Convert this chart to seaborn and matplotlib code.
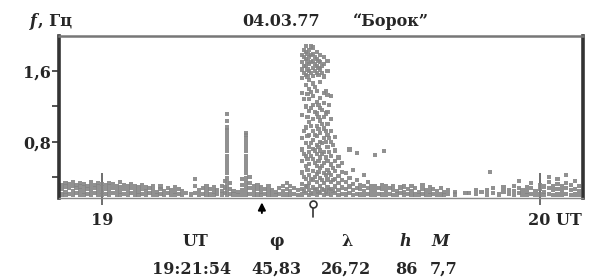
import matplotlib
matplotlib.use("Agg")
import matplotlib.pyplot as plt
import matplotlib.transforms as mtransforms
import seaborn as sns
import pandas as pd

# minutes after 19:00 UT, frequency in Hz
band_left = [
    (-5.5, [0.20, 0.26, 0.31]), (-5.0, [0.19, 0.23, 0.29, 0.33]),
    (-4.5, [0.21, 0.27, 0.32]), (-4.0, [0.19, 0.24, 0.30, 0.34]),
    (-3.5, [0.22, 0.27, 0.31]), (-3.0, [0.20, 0.25, 0.29, 0.33]),
    (-2.5, [0.19, 0.23, 0.28, 0.32]), (-2.0, [0.21, 0.26, 0.30]),
    (-1.5, [0.19, 0.24, 0.29, 0.34]), (-1.0, [0.22, 0.27, 0.31]),
    (-0.5, [0.20, 0.25, 0.30, 0.33]), (0.0, [0.19, 0.23, 0.28, 0.32]),
    (0.5, [0.21, 0.26, 0.31]), (1.0, [0.19, 0.24, 0.29, 0.33]),
    (1.5, [0.22, 0.27, 0.32]), (2.0, [0.20, 0.25, 0.30]),
    (2.5, [0.19, 0.23, 0.28, 0.34]), (3.0, [0.21, 0.26, 0.31]),
    (3.5, [0.19, 0.24, 0.29]), (4.0, [0.22, 0.27, 0.32]),
    (4.5, [0.20, 0.25, 0.30]), (5.0, [0.19, 0.23, 0.28]),
    (5.5, [0.21, 0.26, 0.31]), (6.0, [0.19, 0.24, 0.28]),
    (6.5, [0.22, 0.27]), (7.0, [0.20, 0.25, 0.30]),
    (7.5, [0.19, 0.23]), (8.0, [0.21, 0.26, 0.29]),
    (8.5, [0.19, 0.24]), (9.0, [0.22, 0.27]),
    (9.5, [0.20, 0.25]), (10.0, [0.19, 0.23, 0.28]),
    (10.5, [0.21, 0.26]), (11.0, [0.19, 0.24]),
    (11.5, [0.22]), (12.2, [0.20]),
    (12.7, [0.22, 0.30, 0.38]), (13.3, [0.20, 0.25]),
    (13.8, [0.21, 0.27]), (14.3, [0.19, 0.24, 0.29]),
    (14.8, [0.20, 0.26]), (15.3, [0.19, 0.23, 0.28]),
    (15.8, [0.21, 0.25]), (16.4, [0.20, 0.24, 0.30]),
    (16.8, [0.22, 0.28, 0.35]),
]

spike_a = [(17.1, [0.19, 0.24, 0.29, 0.34, 0.39, 0.44, 0.49, 0.54, 0.59, 0.64,
                   0.69, 0.74, 0.79, 0.84, 0.89, 0.93, 0.96, 1.03, 1.11])]
spike_b = [(19.7, [0.19, 0.24, 0.29, 0.34, 0.39, 0.44, 0.49, 0.54, 0.59, 0.64,
                   0.69, 0.74, 0.79, 0.84, 0.88, 0.90])]

band_mid = [
    (17.5, [0.21, 0.26, 0.33]), (18.0, [0.20, 0.24]), (18.6, [0.19, 0.23]),
    (19.2, [0.20, 0.25, 0.31, 0.38]), (20.2, [0.21, 0.27, 0.33, 0.40]),
    (20.8, [0.19, 0.24, 0.29]), (21.3, [0.20, 0.26, 0.31]),
    (21.8, [0.19, 0.23, 0.28]), (22.3, [0.21, 0.26]),
    (22.8, [0.19, 0.24, 0.29]), (23.3, [0.20, 0.25]),
    (23.8, [0.19, 0.23]), (24.3, [0.21, 0.27]),
    (24.8, [0.19, 0.24, 0.30]), (25.3, [0.20, 0.26, 0.33]),
    (25.8, [0.19, 0.24, 0.30]), (26.3, [0.21, 0.27]),
    (26.8, [0.19, 0.25]),
]

burst = [
    (27.4, [0.20, 0.26, 0.32, 0.45, 0.58, 0.71, 0.84, 1.10, 1.35, 1.52, 1.62, 1.70, 1.78]),
    (27.65, [0.24, 0.40, 0.66, 0.92, 1.28, 1.58, 1.66, 1.76, 1.84]),
    (27.9, [0.22, 0.29, 0.38, 0.52, 0.64, 0.78, 0.96, 1.20, 1.44, 1.56, 1.66, 1.74, 1.82, 1.89]),
    (28.15, [0.30, 0.48, 0.60, 0.86, 1.08, 1.34, 1.54, 1.62, 1.71, 1.80]),
    (28.4, [0.19, 0.25, 0.33, 0.42, 0.55, 0.68, 0.74, 0.88, 1.02, 1.15, 1.28, 1.40, 1.50,
            1.60, 1.68, 1.76, 1.84]),
    (28.65, [0.22, 0.38, 0.64, 0.78, 0.98, 1.18, 1.36, 1.58, 1.70, 1.78, 1.88]),
    (28.9, [0.21, 0.28, 0.36, 0.47, 0.60, 0.72, 0.82, 0.92, 1.06, 1.22, 1.32, 1.46, 1.55,
            1.64, 1.72, 1.80, 1.87]),
    (29.15, [0.25, 0.40, 0.56, 0.70, 0.88, 1.14, 1.42, 1.60, 1.68, 1.76]),
    (29.4, [0.20, 0.26, 0.34, 0.43, 0.52, 0.66, 0.76, 0.86, 0.98, 1.12, 1.25, 1.38, 1.58,
            1.66, 1.74, 1.82]),
    (29.65, [0.23, 0.46, 0.58, 0.74, 0.94, 1.08, 1.22, 1.56, 1.64, 1.72]),
    (29.9, [0.22, 0.30, 0.39, 0.50, 0.62, 0.70, 0.80, 0.90, 1.04, 1.18, 1.30, 1.48, 1.62,
            1.70, 1.78]),
    (30.15, [0.26, 0.36, 0.52, 0.66, 0.78, 1.00, 1.16, 1.58, 1.66]),
    (30.4, [0.19, 0.25, 0.33, 0.44, 0.56, 0.68, 0.84, 0.95, 1.08, 1.24, 1.35, 1.54, 1.68, 1.76]),
    (30.65, [0.23, 0.42, 0.62, 0.80, 0.92, 1.12, 1.38]),
    (30.9, [0.21, 0.28, 0.37, 0.48, 0.58, 0.74, 0.88, 1.00, 1.14, 1.33, 1.60, 1.72]),
    (31.15, [0.25, 0.44, 0.68, 0.84, 1.22]),
    (31.4, [0.20, 0.26, 0.34, 0.42, 0.54, 0.64, 0.80, 0.92, 1.06, 1.32]),
    (31.65, [0.24, 0.36, 0.50, 0.76]),
    (31.9, [0.22, 0.29, 0.38, 0.47, 0.58, 0.70, 0.85]),
    (32.4, [0.19, 0.25, 0.33, 0.41, 0.52, 0.62]),
    (32.9, [0.21, 0.28, 0.36, 0.46, 0.56]),
    (33.4, [0.20, 0.26, 0.34, 0.44]),
    (33.9, [0.22, 0.29, 0.39, 0.71]),
    (34.4, [0.19, 0.25, 0.32, 0.48]),
    (34.9, [0.21, 0.27, 0.36, 0.67]),
    (35.4, [0.20, 0.26, 0.31]),
    (35.9, [0.19, 0.24, 0.30, 0.42]),
    (36.4, [0.21, 0.27, 0.34]),
    (36.9, [0.20, 0.25, 0.30]),
    (37.4, [0.19, 0.24, 0.29, 0.65]),
    (37.9, [0.21, 0.27]),
]

band_right = [
    (38.4, [0.20, 0.26, 0.31]), (38.6, [0.69]), (38.9, [0.19, 0.24, 0.29]),
    (39.4, [0.21, 0.27]), (39.9, [0.19, 0.25, 0.30]), (40.4, [0.20, 0.24]),
    (40.9, [0.22, 0.28]), (41.4, [0.19, 0.23, 0.29]), (41.9, [0.21, 0.26]),
    (42.4, [0.19, 0.24, 0.30]), (42.9, [0.20, 0.27]), (43.4, [0.19, 0.23]),
    (43.9, [0.21, 0.26, 0.31]), (44.4, [0.20, 0.25]), (44.9, [0.19, 0.23, 0.28]),
    (45.4, [0.21, 0.26]), (45.9, [0.19, 0.24]), (46.4, [0.20, 0.27]),
    (46.9, [0.19, 0.23]), (47.4, [0.21, 0.25]), (48.4, [0.20, 0.23]),
    (49.8, [0.22]), (50.3, [0.22]), (51.2, [0.21, 0.25]), (52.0, [0.23]),
    (52.8, [0.20, 0.25]), (53.2, [0.46]), (53.6, [0.22, 0.27]), (54.4, [0.20]),
    (55.0, [0.23, 0.28]), (55.8, [0.21, 0.25]), (56.5, [0.19, 0.24, 0.30]),
    (57.1, [0.22, 0.27, 0.35]), (57.6, [0.20, 0.25]), (58.2, [0.19, 0.23, 0.28]),
    (58.8, [0.21, 0.27, 0.33]), (59.4, [0.19, 0.24]), (60.0, [0.20, 0.26, 0.31]),
    (60.6, [0.19, 0.23, 0.29]), (61.2, [0.21, 0.27, 0.34, 0.40]),
    (61.8, [0.19, 0.25, 0.30]), (62.4, [0.20, 0.26, 0.32, 0.38]),
    (63.0, [0.19, 0.24, 0.29]), (63.6, [0.21, 0.27, 0.33, 0.42]),
    (64.2, [0.19, 0.25, 0.31]), (64.8, [0.20, 0.26, 0.35]),
    (65.4, [0.19, 0.24, 0.30]),
]

event_time = 21.9     # 19:21:54
arrival_time = 28.9
hour_ticks = [0, 60]
hour_labels = ["19", "20 UT"]
f_major = [0.8, 1.6]
f_major_labels = ["0,8", "1,6"]
f_minor = [0.4, 1.2]

info_names = ["UT", "φ", "λ", "h", "M"]
info_values = ["19:21:54", "45,83", "26,72", "86", "7,7"]


def expand(cols):
    return [(t, f) for t, fs in cols for f in fs]


rows = []
for group in [band_left, spike_a, spike_b, band_mid, burst, band_right]:
    rows += expand(group)
df = pd.DataFrame(rows, columns=["t", "f"])

sns.set_style("white")
plt.rcParams["font.family"] = ["DejaVu Serif"]
plt.rcParams["font.weight"] = "bold"

W, H = 602, 279
fig = plt.figure(figsize=(W / 100, H / 100), dpi=100)
ax = fig.add_axes([59 / W, 1 - 198 / H, (583 - 59) / W, (198 - 36) / H])

sns.scatterplot(data=df, x="t", y="f", marker="s", s=9, color="#858585",
                edgecolor="none", linewidth=0, alpha=0.9, ax=ax)

ax.set_xlim(-5.9, 65.9)
ax.set_ylim(0.16, 2.0)
ax.set_xlabel("")
ax.set_ylabel("")

ax.set_yticks(f_major)
ax.set_yticklabels(f_major_labels, fontsize=11.5, fontweight="bold")
ax.set_yticks(f_minor, minor=True)
ax.tick_params(axis="y", which="both", direction="out", length=5, width=1.2,
               color="#333333", pad=1, left=True)

ax.xaxis.remove_overlapping_locs = False
ax.set_xticks(hour_ticks)
ax.set_xticklabels(hour_labels, fontsize=11.5, fontweight="bold")
ax.set_xticks(hour_ticks, minor=True)
ax.tick_params(axis="x", which="major", direction="in", length=18, width=1.2,
               color="#555555", pad=10, bottom=True)
ax.tick_params(axis="x", which="minor", direction="out", length=5, width=1.2,
               color="#555555", bottom=True)
lab20 = ax.get_xticklabels()[1]
lab20.set_horizontalalignment("left")
lab20.set_transform(lab20.get_transform() +
                    mtransforms.ScaledTranslation(-12 / 100, 0, fig.dpi_scale_trans))

for side, lw, col in [("left", 2.6, "#333333"), ("right", 2.6, "#333333"),
                      ("top", 1.8, "#777777"), ("bottom", 1.0, "#888888")]:
    ax.spines[side].set_visible(True)
    ax.spines[side].set_linewidth(lw)
    ax.spines[side].set_color(col)

# event markers below the axis
blend = mtransforms.blended_transform_factory(ax.transData, ax.transAxes)
ax.annotate("", xy=(event_time, -0.01), xytext=(event_time, -0.11),
            xycoords=blend, textcoords=blend, annotation_clip=False,
            arrowprops=dict(arrowstyle="-|>", color="black", lw=1.4, mutation_scale=11))
ax.plot([arrival_time, arrival_time], [-0.05, -0.12], transform=blend,
        color="#333333", lw=1.2, clip_on=False)
ax.plot([arrival_time], [-0.035], transform=blend, marker="o", ms=5,
        mfc="white", mec="#333333", mew=1.2, clip_on=False)


def fx(px):
    return px / W


def fy(py):
    return 1 - py / H


fig.text(fx(30), fy(21), "f", style="italic", fontsize=11.5, ha="left", va="center")
fig.text(fx(38), fy(21), ", Гц", fontsize=11.5, ha="left", va="center")
fig.text(fx(281), fy(21), "04.03.77", fontsize=11.5, ha="center", va="center")
fig.text(fx(391), fy(21), "\u201cБорок\u201d", fontsize=11.5, ha="center", va="center")

name_x = [195, 276, 347, 405, 440]
value_x = [192, 276, 346, 406, 444]
for i, (n, v) in enumerate(zip(info_names, info_values)):
    st = "italic" if n in ("h", "M") else "normal"
    fig.text(fx(name_x[i]), fy(241), n, fontsize=11.5, style=st, ha="center", va="center")
    fig.text(fx(value_x[i]), fy(269), v, fontsize=11.5, ha="center", va="center")

fig.savefig("out.png", dpi=100)
